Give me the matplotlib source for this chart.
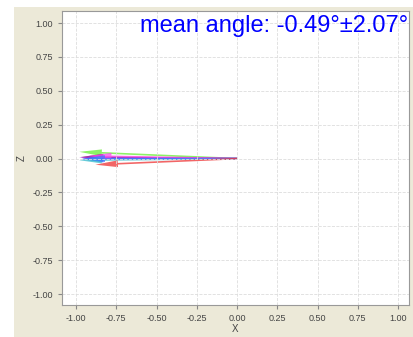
import matplotlib
matplotlib.use("Agg")
import matplotlib.pyplot as plt
from matplotlib.patches import Rectangle

plt.rcParams['font.family'] = ['Liberation Sans', 'DejaVu Sans']

# arrow end points (x, z), all from the origin
ends_x = [-0.98, -0.97, -0.98, -0.97, -0.98, -0.92, -0.96, -0.88]
ends_z = [0.05, 0.012, 0.008, -0.004, -0.012, 0.02, 0.0, -0.045]
colors = ['#66ee33', '#7a1a55', '#aa22cc', '#3355ff', '#33bbcc', '#ff44ee', '#4477ff', '#ee3333']
ticks = [-1.0, -0.75, -0.5, -0.25, 0.0, 0.25, 0.5, 0.75, 1.0]
title = "mean angle: -0.49°±2.07°"

fig = plt.figure(figsize=(4.14, 3.37), dpi=100, facecolor='white')
fig.patches.append(Rectangle((14/414, 0), 1, 1 - 7/337, transform=fig.transFigure,
                             facecolor='#ece9d8', edgecolor='none', zorder=-10))
ax = fig.add_axes([62/414, 32/337, 347/414, 294/337])
ax.set_facecolor('white')

for x, z, c in zip(ends_x, ends_z, colors):
    ax.arrow(0, 0, x, z, width=0.012, head_width=0.05, head_length=0.14,
             length_includes_head=True, color=c, alpha=0.75, lw=0)

ax.set_xlim(-1.087, 1.068)
ax.set_ylim(-1.08, 1.089)
ax.set_xticks(ticks)
ax.set_yticks(ticks)
ax.set_xticklabels([f"{t:.2f}" for t in ticks])
ax.set_yticklabels([f"{t:.2f}" for t in ticks])
ax.tick_params(labelsize=6.5, colors='#444444', length=3, color='#888888')
ax.grid(True, color='#dddddd', linestyle='--', lw=0.6)
for s in ax.spines.values():
    s.set_color('#999999')
ax.set_xlabel("X", fontsize=7, color='#444444', labelpad=1)
ax.set_ylabel("Z", fontsize=7, color='#444444', labelpad=4)
ax.text(0.997, 0.985, title, transform=ax.transAxes, ha='right', va='top',
        color='#0000ff', fontsize=17)

fig.savefig("out.png", dpi=100)
